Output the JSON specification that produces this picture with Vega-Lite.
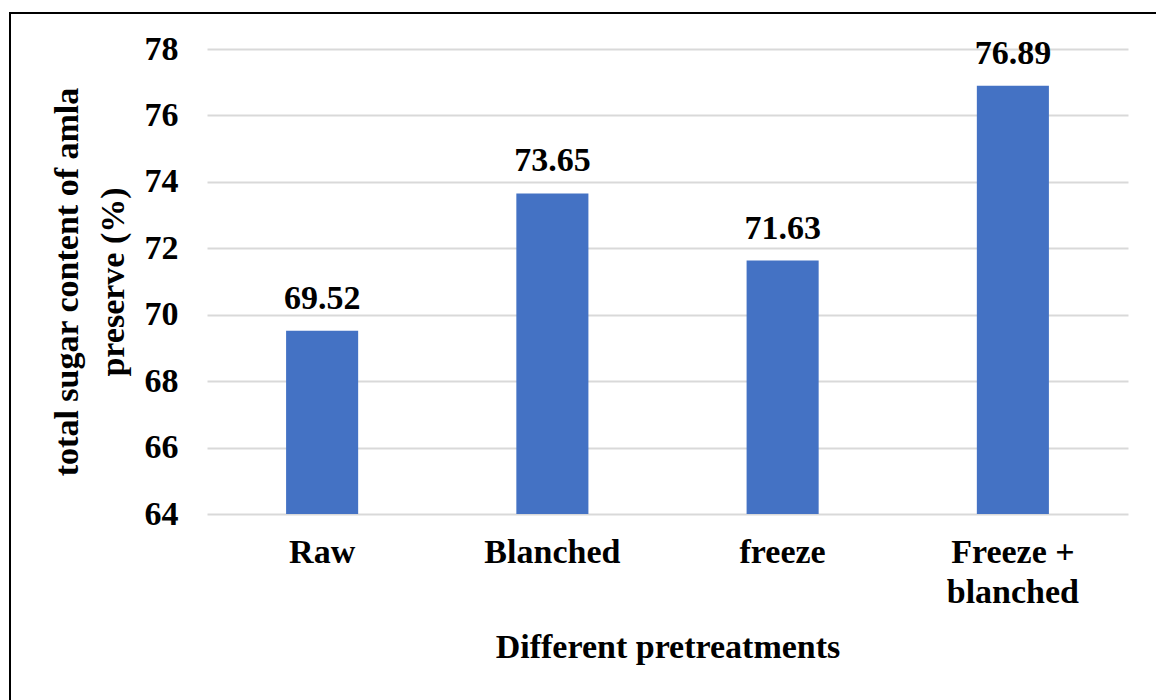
{
  "$schema": "https://vega.github.io/schema/vega-lite/v6.json",
  "autosize": "none",
  "width": 1146,
  "height": 687,
  "padding": {"left": 10, "top": 13, "right": 0, "bottom": 0},
  "background": "white",
  "config": {
    "view": {"stroke": "black", "strokeWidth": 2, "strokeDash": [1146, 1833, 700, 10]},
    "font": "Liberation Serif",
    "axis": {
      "labelFont": "Liberation Serif",
      "titleFont": "Liberation Serif",
      "labelFontWeight": "bold",
      "titleFontWeight": "bold",
      "labelColor": "black",
      "titleColor": "black",
      "ticks": false,
      "domain": false
    }
  },
  "data": {
    "values": [
      {"treatment": "Raw", "sugar": 69.52},
      {"treatment": "Blanched", "sugar": 73.65},
      {"treatment": "freeze", "sugar": 71.63},
      {"treatment": "Freeze + blanched", "sugar": 76.89}
    ]
  },
  "encoding": {
    "x": {
      "field": "treatment",
      "type": "nominal",
      "sort": null,
      "scale": {"range": [197, 1118], "paddingInner": 0.687, "paddingOuter": 0.3435},
      "axis": {
        "title": "Different pretreatments",
        "orient": "bottom",
        "offset": -186,
        "labelAngle": 0,
        "labelFontSize": 34,
        "labelPadding": 21,
        "labelLineHeight": 40,
        "labelExpr": "datum.value == 'Freeze + blanched' ? ['Freeze +', 'blanched'] : datum.value",
        "titleFontSize": 34,
        "titlePadding": 21,
        "grid": false
      }
    },
    "y": {
      "field": "sugar",
      "type": "quantitative",
      "scale": {"domain": [64, 78], "range": [501, 36], "zero": false, "nice": false},
      "axis": {
        "title": ["total sugar content of amla", "preserve (%)"],
        "orient": "left",
        "offset": -197,
        "values": [64, 66, 68, 70, 72, 74, 76, 78],
        "labelFontSize": 34,
        "labelPadding": 29,
        "titleFontSize": 34,
        "titleLineHeight": 46,
        "titlePadding": 14,
        "grid": true,
        "gridColor": "#d9d9d9",
        "gridWidth": 2
      }
    }
  },
  "layer": [
    {
      "mark": {"type": "bar", "color": "#4472C4"},
      "encoding": {"y2": {"datum": 64}}
    },
    {
      "mark": {"type": "text", "font": "Liberation Serif", "fontWeight": "bold", "fontSize": 34, "baseline": "alphabetic", "dy": -22, "color": "black"},
      "encoding": {"text": {"field": "sugar", "type": "quantitative", "format": ".2f"}}
    }
  ]
}
